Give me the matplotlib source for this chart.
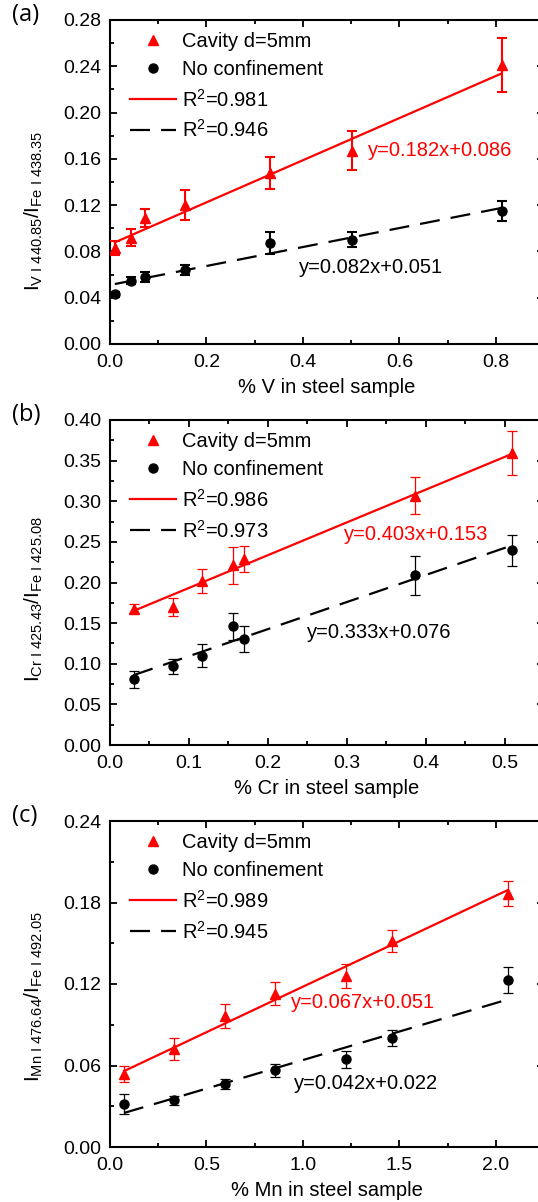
import matplotlib
matplotlib.use("Agg")
import matplotlib.pyplot as plt
import numpy as np
from matplotlib.lines import Line2D
from matplotlib.ticker import MultipleLocator, FormatStrFormatter

plt.rcParams['font.family'] = ['Liberation Sans', 'DejaVu Sans']
plt.rcParams['mathtext.fontset'] = 'custom'
plt.rcParams['mathtext.rm'] = 'Liberation Sans'
plt.rcParams['mathtext.it'] = 'Liberation Sans'

# (a) vanadium
v_x = [0.010, 0.044, 0.072, 0.156, 0.332, 0.501, 0.812]
v_cav = [0.083, 0.092, 0.109, 0.120, 0.148, 0.167, 0.241]
v_cav_err = [0.006, 0.0075, 0.008, 0.013, 0.014, 0.017, 0.0235]
v_free = [0.043, 0.0546, 0.058, 0.064, 0.0876, 0.090, 0.115]
v_free_err = [0.002, 0.003, 0.004, 0.004, 0.0095, 0.0065, 0.0085]
v_fit_cav = [0.182, 0.086]
v_fit_free = [0.082, 0.051]
v_r2 = ["0.981", "0.946"]

# (b) chromium
cr_x = [0.030, 0.080, 0.1166, 0.156, 0.170, 0.386, 0.510]
cr_cav = [0.168, 0.170, 0.202, 0.221, 0.2285, 0.307, 0.359]
cr_cav_err = [0.006, 0.011, 0.015, 0.023, 0.016, 0.023, 0.027]
cr_free = [0.0807, 0.097, 0.110, 0.146, 0.131, 0.209, 0.2395]
cr_free_err = [0.010, 0.009, 0.014, 0.017, 0.016, 0.024, 0.019]
cr_fit_cav = [0.403, 0.153]
cr_fit_free = [0.333, 0.076]
cr_r2 = ["0.986", "0.973"]

# (c) manganese
mn_x = [0.073, 0.331, 0.594, 0.856, 1.222, 1.463, 2.062]
mn_cav = [0.054, 0.0719, 0.0964, 0.1129, 0.1259, 0.1514, 0.1865]
mn_cav_err = [0.006, 0.008, 0.009, 0.0083, 0.0086, 0.008, 0.009]
mn_free = [0.0319, 0.0344, 0.0461, 0.0564, 0.0645, 0.0805, 0.1227]
mn_free_err = [0.0073, 0.0033, 0.0037, 0.005, 0.0064, 0.0058, 0.0096]
mn_fit_cav = [0.067, 0.051]
mn_fit_free = [0.042, 0.022]
mn_r2 = ["0.989", "0.945"]

W, H = 538, 1202
fig = plt.figure(figsize=(W / 100, H / 100), dpi=100)


def panel(top, bottom, x, cav, cav_err, free, free_err, fit_cav, fit_free, r2,
          xlim, xmaj, ylim, ymaj, xlabel, ylabel, tag, eq_cav, eq_free,
          ylab_y, thick):
    ax = fig.add_axes([110 / W, 1 - bottom / H, 434 / W, (bottom - top) / H])
    x = np.array(x)
    elw = 1.5 if thick else 0.9
    ax.errorbar(x, cav, yerr=cav_err, fmt='^', color='red', ms=7, elinewidth=elw,
                capsize=3.5, capthick=elw, zorder=3)
    ax.errorbar(x, free, yerr=free_err, fmt='o', color='black', ms=6.5, elinewidth=elw,
                capsize=3.5, capthick=elw, zorder=3)
    xx = np.array([x.min(), x.max()])
    ax.plot(xx, fit_cav[0] * xx + fit_cav[1], color='red', lw=1.6, zorder=2)
    ax.plot(xx, fit_free[0] * xx + fit_free[1], color='black', lw=1.6,
            dashes=(9, 5), zorder=2)
    ax.text(eq_cav[0], eq_cav[1], 'y=%.3fx+%.3f' % tuple(fit_cav), color='red',
            fontsize=14.5, va='center')
    ax.text(eq_free[0], eq_free[1], 'y=%.3fx+%.3f' % tuple(fit_free), color='black',
            fontsize=14.5, va='center')
    ax.set_xlim(*xlim)
    ax.set_ylim(*ylim)
    ax.xaxis.set_major_locator(MultipleLocator(xmaj))
    ax.xaxis.set_minor_locator(MultipleLocator(xmaj / 2))
    ax.yaxis.set_major_locator(MultipleLocator(ymaj))
    ax.yaxis.set_minor_locator(MultipleLocator(ymaj / 2))
    ax.xaxis.set_major_formatter(FormatStrFormatter('%.1f'))
    ax.yaxis.set_major_formatter(FormatStrFormatter('%.2f'))
    ax.tick_params(which='both', direction='in', top=True, right=True,
                   labelsize=14, width=1.3)
    ax.tick_params(axis='x', pad=7)
    ax.tick_params(axis='y', pad=6)
    ax.tick_params(which='major', length=5)
    ax.tick_params(which='minor', length=3)
    for s in ax.spines.values():
        s.set_linewidth(1.5)
    ax.set_xlabel(xlabel, fontsize=14.5, labelpad=5)
    ax.set_ylabel(ylabel, fontsize=15)
    ax.yaxis.set_label_coords(-0.15, ylab_y)
    handles = [
        Line2D([], [], ls='none', marker='^', color='red', ms=7),
        Line2D([], [], ls='none', marker='o', color='black', ms=6.5),
        Line2D([], [], color='red', lw=1.6),
        Line2D([], [], color='black', lw=1.6, dashes=(9, 5)),
    ]
    labels = ['Cavity d=5mm', 'No confinement', 'R$^2$=' + r2[0], 'R$^2$=' + r2[1]]
    ax.legend(handles, labels, loc='upper left', bbox_to_anchor=(0.045, 0.962),
              frameon=False, fontsize=14.5, handlelength=2.3, handletextpad=0.3,
              labelspacing=0.45, borderaxespad=0, borderpad=0)
    fig.text(12 / W, 1 - (top - 5) / H, tag, fontsize=17, family='Open Sans',
             va='center', ha='left')
    return ax


panel(20, 344, v_x, v_cav, v_cav_err, v_free, v_free_err, v_fit_cav, v_fit_free, v_r2,
      (0, 0.9), 0.2, (0, 0.28), 0.04, '% V in steel sample',
      r'$\mathregular{I_{V\ I\ 440.85}/I_{Fe\ I\ 438.35}}$', '(a)',
      (0.535, 0.167), (0.392, 0.0665), 0.41, True)
panel(420, 745, cr_x, cr_cav, cr_cav_err, cr_free, cr_free_err, cr_fit_cav, cr_fit_free,
      cr_r2, (0, 0.55), 0.1, (0, 0.40), 0.05, '% Cr in steel sample',
      r'$\mathregular{I_{Cr\ I\ 425.43}/I_{Fe\ I\ 425.08}}$', '(b)',
      (0.297, 0.259), (0.250, 0.138), 0.45, False)
panel(821, 1147, mn_x, mn_cav, mn_cav_err, mn_free, mn_free_err, mn_fit_cav, mn_fit_free,
      mn_r2, (0, 2.25), 0.5, (0, 0.24), 0.06, '% Mn in steel sample',
      r'$\mathregular{I_{Mn\ I\ 476.64}/I_{Fe\ I\ 492.05}}$', '(c)',
      (0.938, 0.1063), (0.953, 0.0466), 0.46, False)

fig.savefig('out.png', dpi=100)
